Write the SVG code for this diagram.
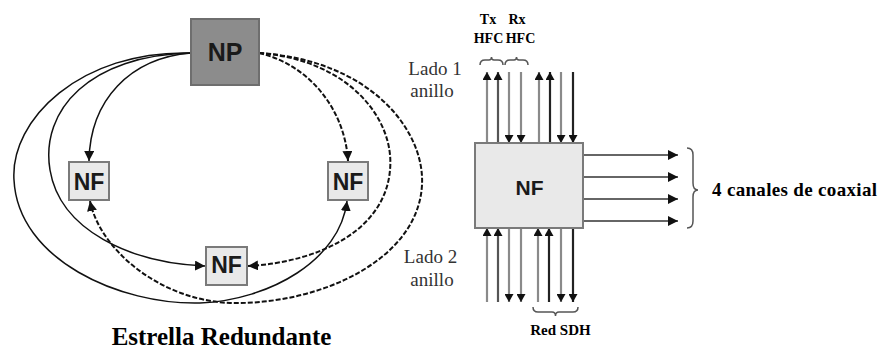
<svg xmlns="http://www.w3.org/2000/svg" width="882" height="349" viewBox="0 0 882 349">
<style>
.np{fill:#8c8c8c;stroke:#6e6e6e;stroke-width:2}
.nf{fill:#e9e9e9;stroke:#7a7a7a;stroke-width:2}
.nt{font-family:"Liberation Sans",Arial,sans-serif;font-weight:bold;fill:#1a1a1a;text-anchor:middle}
.b{font-weight:bold;fill:#000}
.lado{fill:#333;font-size:19px}
.sol{fill:none;stroke:#111;stroke-width:1.5}
.dsh{fill:none;stroke:#111;stroke-width:2;stroke-dasharray:5 2}
.vl{stroke-width:2.2}
.g1{stroke:#8a8a8a}
.g2{stroke:#555}
.g3{stroke:#222}
.br{fill:none;stroke:#555;stroke-width:1.5}
.hl{stroke:#666;stroke-width:2}
</style>
<defs>
<marker id="ah" viewBox="0 0 10 10" refX="10" refY="5" markerWidth="10" markerHeight="10" markerUnits="userSpaceOnUse" orient="auto"><path d="M0,0 L10,5 L0,10 z" fill="#111"/></marker>
<marker id="av" viewBox="0 0 8 9" refX="8" refY="4.5" markerWidth="8" markerHeight="9" markerUnits="userSpaceOnUse" orient="auto"><path d="M0,0 L8,4.5 L0,9 z" fill="#111"/></marker>
</defs>

<g id="connectors">
<path class="sol" d="M191,53 C130,58 90,100 89,161" marker-end="url(#ah)"/>
<path class="sol" d="M191,53 C90,55 40,110 50,170 C60,230 130,263 205,266" marker-end="url(#ah)"/>
<path class="sol" d="M191,53 C80,50 10,120 14,180 C18,260 120,305 200,303 C270,300 340,260 347,201" marker-end="url(#ah)"/>
<path class="dsh" d="M259,53 C310,65 345,110 348,161" marker-end="url(#ah)"/>
<path class="dsh" d="M259,53 C350,60 395,120 390,170 C385,230 320,262 248,266" marker-end="url(#ah)"/>
<path class="dsh" d="M259,53 C370,60 425,130 422,185 C418,260 320,305 230,303 C160,300 100,250 90,201" marker-end="url(#ah)"/>

<line class="vl g1" x1="487" y1="143" x2="487" y2="72" marker-end="url(#av)"/>
<line class="vl g2" x1="498" y1="143" x2="498" y2="72" marker-end="url(#av)"/>
<line class="vl g1" x1="509" y1="72" x2="509" y2="143" marker-end="url(#av)"/>
<line class="vl g1" x1="521" y1="72" x2="521" y2="143" marker-end="url(#av)"/>
<line class="vl g1" x1="539" y1="143" x2="539" y2="72" marker-end="url(#av)"/>
<line class="vl g3" x1="550" y1="143" x2="550" y2="72" marker-end="url(#av)"/>
<line class="vl g1" x1="561" y1="72" x2="561" y2="143" marker-end="url(#av)"/>
<line class="vl g3" x1="573" y1="72" x2="573" y2="143" marker-end="url(#av)"/>

<line class="vl g1" x1="487" y1="302" x2="487" y2="228" marker-end="url(#av)"/>
<line class="vl g2" x1="498" y1="302" x2="498" y2="228" marker-end="url(#av)"/>
<line class="vl g1" x1="509" y1="228" x2="509" y2="302" marker-end="url(#av)"/>
<line class="vl g1" x1="521" y1="228" x2="521" y2="302" marker-end="url(#av)"/>
<line class="vl g1" x1="538" y1="302" x2="538" y2="228" marker-end="url(#av)"/>
<line class="vl g3" x1="549" y1="302" x2="549" y2="228" marker-end="url(#av)"/>
<line class="vl g1" x1="561" y1="228" x2="561" y2="302" marker-end="url(#av)"/>
<line class="vl g3" x1="573" y1="228" x2="573" y2="302" marker-end="url(#av)"/>

<line class="hl" x1="584" y1="155" x2="678" y2="155" marker-end="url(#ah)"/>
<line class="hl" x1="584" y1="177" x2="678" y2="177" marker-end="url(#ah)"/>
<line class="hl" x1="584" y1="199" x2="678" y2="199" marker-end="url(#ah)"/>
<line class="hl" x1="584" y1="221" x2="678" y2="221" marker-end="url(#ah)"/>
</g>

<g id="node-np">
<rect class="np" x="191" y="19" width="68" height="66"/>
<text class="nt" x="225" y="61" font-size="25">NP</text>
</g>
<g id="node-nf-left">
<rect class="nf" x="69" y="162" width="40" height="38"/>
<text class="nt" x="89" y="190" font-size="23">NF</text>
</g>
<g id="node-nf-right">
<rect class="nf" x="328" y="162" width="40" height="38"/>
<text class="nt" x="348" y="190" font-size="23">NF</text>
</g>
<g id="node-nf-bottom">
<rect class="nf" x="206" y="247" width="41" height="38"/>
<text class="nt" x="226.5" y="273" font-size="23">NF</text>
</g>
<g id="node-nf-big">
<rect class="nf" x="475" y="143" width="108" height="85"/>
<text class="nt" x="529.5" y="195" font-size="21">NF</text>
</g>

<g id="labels" font-family="'Liberation Serif', 'DejaVu Serif', serif">
<text class="b" x="221.5" y="345" font-size="25" text-anchor="middle">Estrella Redundante</text>
<text class="b" x="488" y="24" font-size="14" text-anchor="middle">Tx</text>
<text class="b" x="517" y="24" font-size="14" text-anchor="middle">Rx</text>
<text class="b" x="488.5" y="43" font-size="14" text-anchor="middle">HFC</text>
<text class="b" x="520.5" y="43" font-size="14" text-anchor="middle">HFC</text>
<text class="lado" x="435" y="75" text-anchor="middle">Lado 1</text>
<text class="lado" x="432" y="97" text-anchor="middle">anillo</text>
<text class="lado" x="430.5" y="263" text-anchor="middle">Lado 2</text>
<text class="lado" x="432" y="286" text-anchor="middle">anillo</text>
<text class="b" x="560.5" y="335" font-size="15" text-anchor="middle">Red SDH</text>
<text class="b" x="712" y="196" font-size="19" textLength="165">4 canales de coaxial</text>
</g>
<g id="braces">
<path class="br" d="M480,65 Q480,60 485,60 L489,60 Q491.5,60 491.5,57 Q491.5,60 494,60 L498,60 Q503,60 503,65"/>
<path class="br" d="M505,65 Q505,60 510,60 L514,60 Q516.5,60 516.5,57 Q516.5,60 519,60 L523,60 Q528,60 528,65"/>
<path class="br" d="M533,307 Q533,312 538,312 L552,312 Q555.5,312 555.5,316 Q555.5,312 559,312 L573,312 Q578,312 578,307"/>
<path class="br" d="M687,148 Q693,148 693,155 L693,183 Q693,190 698,190 Q693,190 693,197 L693,221 Q693,228 687,228"/>
</g>
</svg>
